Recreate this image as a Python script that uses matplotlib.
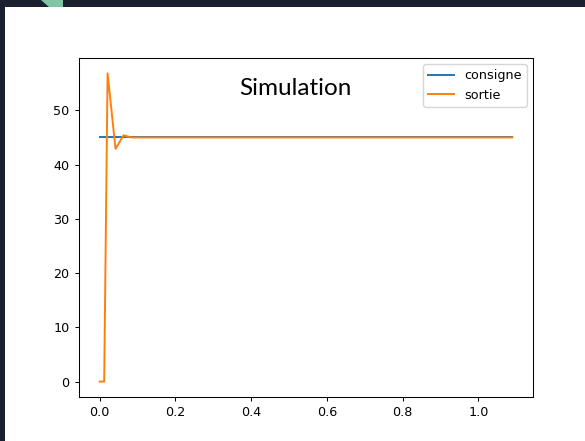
import matplotlib.pyplot as plt
from matplotlib.patches import Polygon, Rectangle

W, H = 585, 441

# time samples (s) and response
t = [0.0, 0.012, 0.021, 0.042, 0.063, 0.084, 1.09]
sortie = [0.0, 0.0, 56.8, 42.9, 45.4, 45.0, 45.0]
t_consigne = [0.0, 1.09]
consigne = [45.0, 45.0]

fig = plt.figure(figsize=(W / 100, H / 100), dpi=100)

# dark window frame around the plot
fig.patches.append(Rectangle((0, 1 - 7 / H), 1, 7 / H, transform=fig.transFigure,
                             facecolor='#1b2030', edgecolor='none', zorder=0))
fig.patches.append(Rectangle((0, 0), 5 / W, 1, transform=fig.transFigure,
                             facecolor='#1b2030', edgecolor='none', zorder=0))
fig.patches.append(Polygon([(41 / W, 1), (63 / W, 1), (63 / W, 1 - 7 / H), (49 / W, 1 - 7 / H)],
                           closed=True, transform=fig.transFigure,
                           facecolor='#7fc7a4', edgecolor='none', zorder=1))

ax = fig.add_axes([79 / W, 44 / H, 454 / W, 339 / H])
ax.plot(t_consigne, consigne, color='#1f77b4', lw=1.4, label='consigne')
ax.plot(t, sortie, color='#ff7f0e', lw=1.4, label='sortie')

ax.set_xticks([0.0, 0.2, 0.4, 0.6, 0.8, 1.0])
ax.set_yticks([0, 10, 20, 30, 40, 50])
ax.tick_params(labelsize=9.2, length=3.2, width=0.75)
for s in ax.spines.values():
    s.set_linewidth(0.75)
ax.legend(loc='upper right', fontsize=9.2)

fig.text(295 / W, 1 - 95 / H, 'Simulation', ha='center', va='baseline',
         fontfamily='Lato', fontsize=17.5)

fig.savefig('out.png', dpi=100)
